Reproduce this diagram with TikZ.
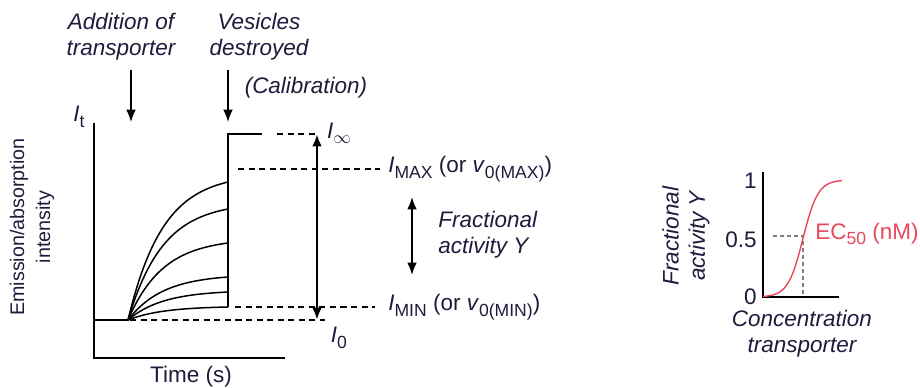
\documentclass[tikz,border=0pt]{standalone}
\usepackage{fontspec}
\setmainfont{Liberation Sans}
\usepackage{tikz}
\usetikzlibrary{arrows.meta,positioning}
\definecolor{ink}{RGB}{28,28,60}
\definecolor{ecred}{RGB}{232,72,92}
\newcommand{\lowsub}[1]{\lower0.45ex\hbox{\fontsize{10}{10}\selectfont #1}}

\begin{document}
\begin{tikzpicture}[x=0.02cm,y=-0.02cm,
    lbl/.style={inner sep=0pt,font=\fontsize{12.8}{15}\selectfont,text=ink},
    ilbl/.style={lbl,font=\fontsize{12.8}{15}\selectfont\itshape,align=center},
    axis/.style={line width=0.85pt},
    curve/.style={line width=0.85pt},
    lev/.style={line width=0.6pt,dash pattern=on 3.5pt off 2.5pt},
    >={Latex[length=7pt,width=5.5pt]}]
  \useasboundingbox (0,0) rectangle (920,388);
  % left panel: axes
  \coordinate (o) at (94,358);
  \draw [axis] (94,123) -- (o) -- (285,358);
  \node [lbl,font=\fontsize{11.2}{14.8}\selectfont,rotate=90,align=center] (ylab) at (32,227) {Emission/absorption\\intensity};
  \node [lbl] (time) at (191,377) {Time (s)};
  \node [lbl] (it) at (79,117) {\textit{I}\lowsub{t}};
  % events
  \node [ilbl] (add) at (121,37) {Addition of\\transporter};
  \node [ilbl] (ves) at (259,37) {Vesicles\\destroyed};
  \node [ilbl] (cal) at (306,88) {(Calibration)};
  \coordinate (a1) at (131,70); \coordinate (a2) at (131,122);
  \coordinate (b1) at (228,70); \coordinate (b2) at (228,122);
  \draw [->,line width=0.85pt] (a1) -- (a2);
  \draw [->,line width=0.85pt] (b1) -- (b2);
  % traces
  \coordinate (s) at (128,320);
  \draw [curve] (94,320) -- (s);
  \foreach \h in {138,111,77,43,28,13}
    \draw [curve] plot[domain=128:228,samples=40] (\x,{320-\h*(1-exp(-(\x-128)/35))/(1-exp(-100/35))});
  \draw [curve] (228,307) -- (228,134) -- (262,134);
  % levels
  \coordinate (inf) at (317,134);
  \coordinate (zero) at (317,320);
  \draw [lev] (277,134) -- (inf);
  \draw [lev] (238,169) -- (380,169);
  \draw [lev] (235,307) -- (375,307);
  \draw [lev] (130,320) -- (325,320);
  \draw [<->,line width=1.4pt] (inf) -- (zero);
  \node [lbl] (linf) at (339,133) {\textit{I}\lowsub{$\infty$}};
  \node [lbl] (lzero) at (339,338) {\textit{I}\lowsub{0}};
  \node [lbl,anchor=west] (lmax) at (388,169) {\textit{I}\lowsub{MAX} (or \textit{v}\lowsub{0(MAX)})};
  \node [lbl,anchor=west] (lmin) at (388,307) {\textit{I}\lowsub{MIN} (or \textit{v}\lowsub{0(MIN)})};
  \coordinate (f1) at (412,197); \coordinate (f2) at (412,275);
  \draw [<->,line width=1.1pt] (f1) -- (f2);
  \node [ilbl,anchor=west,align=left] (frac) at (438,235) {Fractional\\activity \textit{Y}};
  % right panel: dose response
  \coordinate (ro) at (763,297);
  \draw [axis] (763,172) -- (ro) -- (839,297);
  \node [lbl,anchor=east] (t1) at (757,181) {1};
  \node [lbl,anchor=east] (t5) at (757,240) {0.5};
  \node [lbl,anchor=east] (t0) at (757,297) {0};
  \coordinate (ec) at (803,236);
  \draw [gray,line width=0.6pt,dash pattern=on 2pt off 2pt] (773,236) -- (ec) -- (803,297);
  \draw [ecred,line width=0.8pt] plot[domain=763:842,samples=60] (\x,{297-117/(1+exp(-(\x-803)/7.5))});
  \node [lbl,anchor=west,text=ecred] (ec50) at (815,234) {EC\lowsub{50} (nM)};
  \node [ilbl] (conc) at (802,334) {Concentration\\transporter};
  \node [ilbl,rotate=90] (ylab2) at (686,236) {Fractional\\activity Y};
\end{tikzpicture}
\end{document}
